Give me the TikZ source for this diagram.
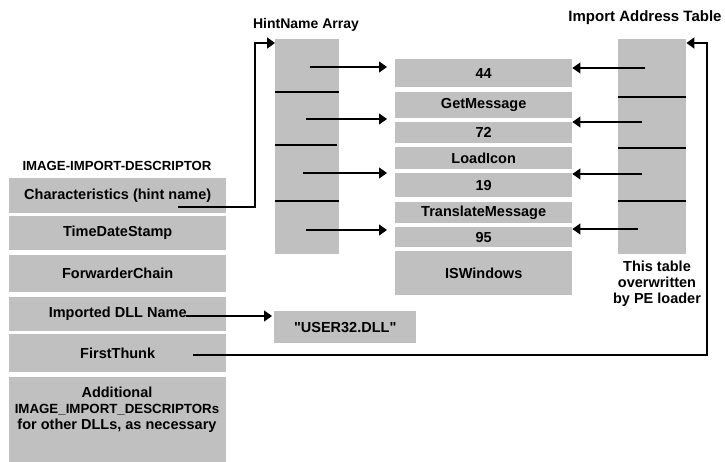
\documentclass[tikz,border=0pt]{standalone}
\usepackage{fontspec}
\setmainfont{Liberation Sans}
\newfontfamily\qfont{Liberation Sans}
\usetikzlibrary{arrows.meta}
\definecolor{boxgray}{RGB}{192,192,192}
\tikzset{
  box/.style={fill=boxgray, draw=none, inner sep=0pt, anchor=north west, font=\bfseries},
  lbl/.style={inner sep=0pt, font=\bfseries, align=center},
  thin/.style={line width=1.2pt},
  thick2/.style={line width=2pt},
  tip/.style={-{Triangle[length=8pt,width=11pt]}},
}
\begin{document}
\begin{tikzpicture}[x=1pt,y=-1pt]
\fontsize{14.5}{16}\selectfont
\useasboundingbox (0,0) rectangle (725,462);
% left column
\node[lbl,font=\bfseries\fontsize{13.2}{15}\selectfont] (tdesc) at (117,166) {IMAGE-IMPORT-DESCRIPTOR};
\node[box,minimum width=217pt,minimum height=35pt] (chars) at (9,178) {Characteristics (hint name)};
\node[box,minimum width=217pt,minimum height=34pt] (tds) at (9,216) {TimeDateStamp};
\node[box,minimum width=217pt,minimum height=37pt] (fwd) at (9,255) {ForwarderChain};
\node[box,minimum width=217pt,minimum height=34pt] (dll) at (9,297) {Imported DLL Name};
\node[box,minimum width=217pt,minimum height=38pt] (ft) at (9,334) {FirstThunk};
\node[box,minimum width=217pt,minimum height=85pt] (add) at (9,377) {};
\node[lbl] (addt) at (117,410) {Additional\\{\fontsize{13.3}{16}\selectfont IMAGE\_IMPORT\_DESCRIPTORs}\\for other DLLs, as necessary};
% hint name array
\node[lbl,font=\bfseries\fontsize{14}{16}\selectfont] (thn) at (306,25) {HintName Array};
\node[box,minimum width=64pt,minimum height=215pt] (hn) at (275,39) {};
\draw[thin] (hn.west |- 0,92) -- (hn.east |- 0,92);
\draw[thick2] (hn.west |- 0,145) -- (337,145);
\draw[thin] (hn.west |- 0,201) -- (hn.east |- 0,201);
% middle column
\node[box,minimum width=177pt,minimum height=28pt] (m44) at (395,59) {44};
\node[box,minimum width=177pt,minimum height=26pt] (mget) at (395,92) {GetMessage};
\node[box,minimum width=177pt,minimum height=21pt] (m72) at (395,122) {72};
\node[box,minimum width=177pt,minimum height=22pt] (mload) at (395,147) {LoadIcon};
\node[box,minimum width=177pt,minimum height=24pt] (m19) at (395,173) {19};
\node[box,minimum width=177pt,minimum height=21pt] (mtrans) at (395,202) {TranslateMessage};
\node[box,minimum width=177pt,minimum height=20pt] (m95) at (395,227) {95};
\node[box,minimum width=177pt,minimum height=44pt] (mis) at (395,251) {ISWindows};
% import address table
\node[lbl,font=\bfseries\fontsize{15}{16}\selectfont] (tiat) at (645,18) {Import Address Table};
\node[box,minimum width=68pt,minimum height=215pt] (iat) at (618,39) {};
\draw[thin] (iat.west |- 0,97) -- (iat.east |- 0,97);
\draw[thin] (iat.west |- 0,148) -- (iat.east |- 0,148);
\draw[thin] (iat.west |- 0,201) -- (iat.east |- 0,201);
\node[lbl] (note) at (657,284) {This table\\overwritten\\by PE loader};
% USER32
\node[box,minimum width=142pt,minimum height=32pt] (user) at (274,311) {{\qfont\bfseries "USER32.DLL"}};
% hint arrows
\coordinate (h1) at (310,67);
\coordinate (h2) at (306,119);
\coordinate (h3) at (303,173);
\coordinate (h4) at (306,230);
\draw[thin,tip,shorten >=8pt] (h1) -- (h1 -| m44.west);
\draw[thin,tip,shorten >=8pt] (h2) -- (h2 -| mget.west);
\draw[thin,tip,shorten >=8pt] (h3) -- (h3 -| m19.west);
\draw[thin,tip,shorten >=8pt] (h4) -- (h4 -| m95.west);
% iat arrows
\coordinate (i1) at (645,68);
\coordinate (i2) at (642,122);
\coordinate (i3) at (642,174);
\coordinate (i4) at (638,229);
\draw[thin,tip] (i1) -- (i1 -| m44.east);
\draw[thin,tip] (i2) -- (i2 -| m72.east);
\draw[thin,tip] (i3) -- (i3 -| m19.east);
\draw[thin,tip] (i4) -- (i4 -| m95.east);
% connectors
\coordinate (cs) at (178,207);
\draw[thick2,tip] (cs) -- (255,207) |- ([yshift=-4pt]hn.north west);
\coordinate (ds) at (186,316);
\draw[thin,tip,shorten >=2pt] (ds) -- (ds -| user.west);
\coordinate (fs) at (193,355);
\draw[thick2,tip] (fs) -- (707,355) |- ([yshift=-4pt]iat.north east);
\end{tikzpicture}
\end{document}
